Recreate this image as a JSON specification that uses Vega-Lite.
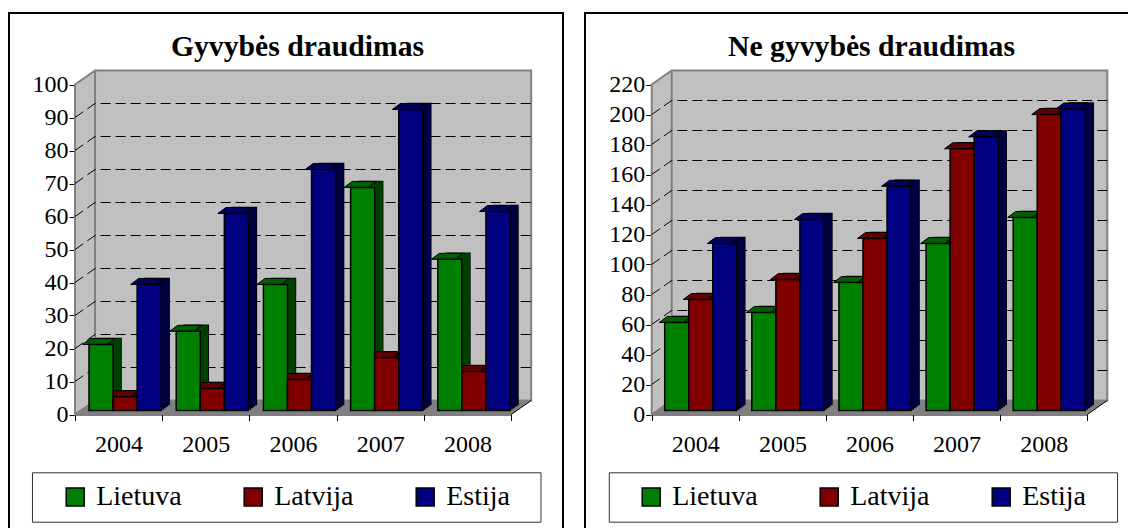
{"$schema":"https://vega.github.io/schema/vega-lite/v6.json","padding":{"left":8,"top":12,"right":0,"bottom":0},"background":"white","spacing":20,"config":{"view":{"stroke":"#000","strokeWidth":2,"fill":"white"},"font":"Liberation Serif","axis":{"labelFont":"Liberation Serif","labelColor":"#000","domainColor":"#000","tickColor":"#000","domainWidth":1,"tickWidth":1,"grid":false,"title":null,"zindex":1},"legend":{"labelFont":"Liberation Serif","labelColor":"#000"}},"datasets":{"life":[{"year":"2004","series":"Lietuva","value":20},{"year":"2004","series":"Latvija","value":4.2},{"year":"2004","series":"Estija","value":38.2},{"year":"2005","series":"Lietuva","value":24},{"year":"2005","series":"Latvija","value":6.7},{"year":"2005","series":"Estija","value":59.7},{"year":"2006","series":"Lietuva","value":38.2},{"year":"2006","series":"Latvija","value":9.4},{"year":"2006","series":"Estija","value":73},{"year":"2007","series":"Lietuva","value":67.6},{"year":"2007","series":"Latvija","value":16},{"year":"2007","series":"Estija","value":91.2},{"year":"2008","series":"Lietuva","value":45.8},{"year":"2008","series":"Latvija","value":11.8},{"year":"2008","series":"Estija","value":60.3}],"nonlife":[{"year":"2004","series":"Lietuva","value":58.7},{"year":"2004","series":"Latvija","value":74},{"year":"2004","series":"Estija","value":111.3},{"year":"2005","series":"Lietuva","value":65.3},{"year":"2005","series":"Latvija","value":87.3},{"year":"2005","series":"Estija","value":127.3},{"year":"2006","series":"Lietuva","value":85.3},{"year":"2006","series":"Latvija","value":114.7},{"year":"2006","series":"Estija","value":149.5},{"year":"2007","series":"Lietuva","value":111.3},{"year":"2007","series":"Latvija","value":174.5},{"year":"2007","series":"Estija","value":182.4},{"year":"2008","series":"Lietuva","value":128.7},{"year":"2008","series":"Latvija","value":197.3},{"year":"2008","series":"Estija","value":201}]},"hconcat":[{"width":554,"height":516,"title":{"text":"Gyvybės draudimas","anchor":"middle","dx":11.5,"offset":-50,"fontSize":29.7,"fontWeight":"bold","font":"Liberation Serif","color":"#000"},"resolve":{"scale":{"x":"independent","y":"independent"},"axis":{"x":"independent","y":"independent"}},"layer":[{"encoding":{"x":{"field":"u","type":"quantitative","axis":null,"scale":{"domain":[0,1],"range":[66,522.2],"nice":false,"zero":false}},"y":{"field":"top","type":"quantitative","axis":{"values":[0,10,20,30,40,50,60,70,80,90,100],"offset":-66,"tickSize":6,"labelFontSize":24,"labelPadding":1},"scale":{"domain":[0,100],"range":[401.5,71.5],"nice":false}}},"layer":[{"data":{"values":[{"u":-0.0932,"u2":1.0215,"top":-17.67,"bottom":-32.64}]},"mark":{"type":"rect","fill":"white","stroke":"#333","strokeWidth":1},"encoding":{"x2":{"field":"u2"},"y2":{"field":"bottom"}}},{"data":{"values":[{"u":0,"top":100,"bottom":0},{"u":0.0439,"top":104.24,"bottom":4.24},{"u":1,"top":104.24,"bottom":4.24}]},"mark":{"type":"area","fill":"#c0c0c0","stroke":"#808080","strokeWidth":2},"encoding":{"y2":{"field":"bottom"}}},{"data":{"values":[{"u":0.0439,"top":104.24,"bottom":4.24}]},"mark":{"type":"rule","stroke":"#808080","strokeWidth":2},"encoding":{"y2":{"field":"bottom"}}},{"data":{"values":[{"u":0,"top":0,"bottom":0},{"u":0.0439,"top":4.24,"bottom":0},{"u":0.9561,"top":4.24,"bottom":0},{"u":1,"top":4.24,"bottom":4.24}]},"mark":{"type":"area","fill":"#808080"},"encoding":{"y2":{"field":"bottom"}}},{"data":{"values":[{"tick":10,"u":0,"top":10},{"tick":10,"u":0.0439,"top":14.24},{"tick":10,"u":1,"top":14.24},{"tick":20,"u":0,"top":20},{"tick":20,"u":0.0439,"top":24.24},{"tick":20,"u":1,"top":24.24},{"tick":30,"u":0,"top":30},{"tick":30,"u":0.0439,"top":34.24},{"tick":30,"u":1,"top":34.24},{"tick":40,"u":0,"top":40},{"tick":40,"u":0.0439,"top":44.24},{"tick":40,"u":1,"top":44.24},{"tick":50,"u":0,"top":50},{"tick":50,"u":0.0439,"top":54.24},{"tick":50,"u":1,"top":54.24},{"tick":60,"u":0,"top":60},{"tick":60,"u":0.0439,"top":64.24},{"tick":60,"u":1,"top":64.24},{"tick":70,"u":0,"top":70},{"tick":70,"u":0.0439,"top":74.24},{"tick":70,"u":1,"top":74.24},{"tick":80,"u":0,"top":80},{"tick":80,"u":0.0439,"top":84.24},{"tick":80,"u":1,"top":84.24},{"tick":90,"u":0,"top":90},{"tick":90,"u":0.0439,"top":94.24},{"tick":90,"u":1,"top":94.24}]},"mark":{"type":"line","stroke":"#000","strokeWidth":1,"strokeDash":[10,5]},"encoding":{"detail":{"field":"tick"}}},{"data":{"values":[{"u":0.9561,"top":0},{"u":1,"top":4.24}]},"mark":{"type":"line","stroke":"#000","strokeWidth":1}}]},{"data":{"name":"life"},"resolve":{"scale":{"color":"independent","x":"independent","y":"independent","xOffset":"independent"},"axis":{"x":"independent","y":"independent"}},"encoding":{"xOffset":{"field":"series","type":"nominal","sort":["Lietuva","Latvija","Estija"],"scale":{"type":"band","paddingOuter":0.3125,"paddingInner":0}}},"layer":[{"mark":{"type":"bar","fill":"#000","stroke":"#000","strokeWidth":1.5},"encoding":{"x":{"field":"year","type":"ordinal","axis":null,"scale":{"range":[80.5,516.5],"paddingInner":0,"paddingOuter":0}},"y":{"field":"value","type":"quantitative","stack":null,"axis":null,"scale":{"domain":[0,100],"range":[391.5,61.5],"nice":false}}}},{"mark":{"type":"bar","fill":"#000","stroke":"#000","strokeWidth":1.5},"encoding":{"x":{"field":"year","type":"ordinal","axis":null,"scale":{"range":[78.5,514.5],"paddingInner":0,"paddingOuter":0}},"y":{"field":"value","type":"quantitative","stack":null,"axis":null,"scale":{"domain":[0,100],"range":[393,63],"nice":false}}}},{"mark":{"type":"bar","fill":"#000","stroke":"#000","strokeWidth":1.5},"encoding":{"x":{"field":"year","type":"ordinal","axis":null,"scale":{"range":[76.5,512.5],"paddingInner":0,"paddingOuter":0}},"y":{"field":"value","type":"quantitative","stack":null,"axis":null,"scale":{"domain":[0,100],"range":[394.5,64.5],"nice":false}}}},{"mark":{"type":"bar","fill":"#000","stroke":"#000","strokeWidth":1.5},"encoding":{"x":{"field":"year","type":"ordinal","axis":null,"scale":{"range":[74.5,510.5],"paddingInner":0,"paddingOuter":0}},"y":{"field":"value","type":"quantitative","stack":null,"axis":null,"scale":{"domain":[0,100],"range":[396,66],"nice":false}}}},{"mark":{"type":"bar"},"encoding":{"x":{"field":"year","type":"ordinal","axis":null,"scale":{"range":[80.5,516.5],"paddingInner":0,"paddingOuter":0}},"y":{"field":"value","type":"quantitative","stack":null,"axis":null,"scale":{"domain":[0,100],"range":[391.5,61.5],"nice":false}},"color":{"field":"series","legend":null,"scale":{"domain":["Lietuva","Latvija","Estija"],"range":["#004000","#400000","#000040"]}}}},{"mark":{"type":"bar"},"encoding":{"x":{"field":"year","type":"ordinal","axis":null,"scale":{"range":[78.5,514.5],"paddingInner":0,"paddingOuter":0}},"y":{"field":"value","type":"quantitative","stack":null,"axis":null,"scale":{"domain":[0,100],"range":[393,63],"nice":false}},"color":{"field":"series","legend":null,"scale":{"domain":["Lietuva","Latvija","Estija"],"range":["#004000","#400000","#000040"]}}}},{"mark":{"type":"bar"},"encoding":{"x":{"field":"year","type":"ordinal","axis":null,"scale":{"range":[76.5,512.5],"paddingInner":0,"paddingOuter":0}},"y":{"field":"value","type":"quantitative","stack":null,"axis":null,"scale":{"domain":[0,100],"range":[394.5,64.5],"nice":false}},"color":{"field":"series","legend":null,"scale":{"domain":["Lietuva","Latvija","Estija"],"range":["#004000","#400000","#000040"]}}}},{"mark":{"type":"bar"},"encoding":{"x":{"field":"year","type":"ordinal","axis":null,"scale":{"range":[74.5,510.5],"paddingInner":0,"paddingOuter":0}},"y":{"field":"value","type":"quantitative","stack":null,"axis":null,"scale":{"domain":[0,100],"range":[396,66],"nice":false}},"color":{"field":"series","legend":null,"scale":{"domain":["Lietuva","Latvija","Estija"],"range":["#004000","#400000","#000040"]}}}},{"mark":{"type":"point","filled":true,"opacity":1,"shape":"M-12,0L12,0L20,-6L-4,-6Z","size":4,"stroke":"#000","strokeWidth":1,"xOffset":6.5,"yOffset":-4},"encoding":{"x":{"field":"year","type":"ordinal","title":null,"axis":{"labelAngle":0,"tickBand":"extent","offset":-114.5,"tickSize":6,"labelFontSize":24,"labelPadding":12},"scale":{"type":"band","range":[66,502],"paddingInner":0,"paddingOuter":0}},"y":{"field":"value","type":"quantitative","axis":null,"scale":{"domain":[0,100],"range":[401.5,71.5],"nice":false}},"color":{"field":"series","legend":null,"scale":{"domain":["Lietuva","Latvija","Estija"],"range":["#006000","#600000","#000060"]}}}},{"mark":{"type":"bar","stroke":"#000","strokeWidth":1.5},"encoding":{"x":{"field":"year","type":"ordinal","axis":null,"scale":{"range":[72.5,508.5],"paddingInner":0,"paddingOuter":0}},"y":{"field":"value","type":"quantitative","stack":null,"axis":null,"scale":{"domain":[0,100],"range":[397.5,67.5],"nice":false}},"color":{"field":"series","title":null,"scale":{"domain":["Lietuva","Latvija","Estija"],"range":["#008000","#800000","#000080"]},"legend":{"orient":"none","legendX":52.2,"legendY":470,"direction":"horizontal","columns":3,"padding":0,"columnPadding":57,"labelOffset":7,"symbolType":"square","symbolSize":324,"symbolStrokeColor":"#000","symbolStrokeWidth":1.5,"labelFontSize":28}}}}]}]},{"width":545,"height":516,"title":{"text":"Ne gyvybės draudimas","anchor":"middle","dx":14,"offset":-50,"fontSize":29.7,"fontWeight":"bold","font":"Liberation Serif","color":"#000"},"resolve":{"scale":{"x":"independent","y":"independent"},"axis":{"x":"independent","y":"independent"}},"layer":[{"encoding":{"x":{"field":"u","type":"quantitative","axis":null,"scale":{"domain":[0,1],"range":[66.7,522.3],"nice":false,"zero":false}},"y":{"field":"top","type":"quantitative","axis":{"values":[0,20,40,60,80,100,120,140,160,180,200,220],"offset":-66.7,"tickSize":6,"labelFontSize":24,"labelPadding":1},"scale":{"domain":[0,220],"range":[401.5,71.5],"nice":false}}},"layer":[{"data":{"values":[{"u":-0.0931,"u2":1.0225,"top":-38.87,"bottom":-71.8}]},"mark":{"type":"rect","fill":"white","stroke":"#333","strokeWidth":1},"encoding":{"x2":{"field":"u2"},"y2":{"field":"bottom"}}},{"data":{"values":[{"u":0,"top":220,"bottom":0},{"u":0.0439,"top":229.33,"bottom":9.33},{"u":1,"top":229.33,"bottom":9.33}]},"mark":{"type":"area","fill":"#c0c0c0","stroke":"#808080","strokeWidth":2},"encoding":{"y2":{"field":"bottom"}}},{"data":{"values":[{"u":0.0439,"top":229.33,"bottom":9.33}]},"mark":{"type":"rule","stroke":"#808080","strokeWidth":2},"encoding":{"y2":{"field":"bottom"}}},{"data":{"values":[{"u":0,"top":0,"bottom":0},{"u":0.0439,"top":9.33,"bottom":0},{"u":0.9561,"top":9.33,"bottom":0},{"u":1,"top":9.33,"bottom":9.33}]},"mark":{"type":"area","fill":"#808080"},"encoding":{"y2":{"field":"bottom"}}},{"data":{"values":[{"tick":20,"u":0,"top":20},{"tick":20,"u":0.0439,"top":29.33},{"tick":20,"u":1,"top":29.33},{"tick":40,"u":0,"top":40},{"tick":40,"u":0.0439,"top":49.33},{"tick":40,"u":1,"top":49.33},{"tick":60,"u":0,"top":60},{"tick":60,"u":0.0439,"top":69.33},{"tick":60,"u":1,"top":69.33},{"tick":80,"u":0,"top":80},{"tick":80,"u":0.0439,"top":89.33},{"tick":80,"u":1,"top":89.33},{"tick":100,"u":0,"top":100},{"tick":100,"u":0.0439,"top":109.33},{"tick":100,"u":1,"top":109.33},{"tick":120,"u":0,"top":120},{"tick":120,"u":0.0439,"top":129.33},{"tick":120,"u":1,"top":129.33},{"tick":140,"u":0,"top":140},{"tick":140,"u":0.0439,"top":149.33},{"tick":140,"u":1,"top":149.33},{"tick":160,"u":0,"top":160},{"tick":160,"u":0.0439,"top":169.33},{"tick":160,"u":1,"top":169.33},{"tick":180,"u":0,"top":180},{"tick":180,"u":0.0439,"top":189.33},{"tick":180,"u":1,"top":189.33},{"tick":200,"u":0,"top":200},{"tick":200,"u":0.0439,"top":209.33},{"tick":200,"u":1,"top":209.33}]},"mark":{"type":"line","stroke":"#000","strokeWidth":1,"strokeDash":[10,5]},"encoding":{"detail":{"field":"tick"}}},{"data":{"values":[{"u":0.9561,"top":0},{"u":1,"top":9.33}]},"mark":{"type":"line","stroke":"#000","strokeWidth":1}}]},{"data":{"name":"nonlife"},"resolve":{"scale":{"color":"independent","x":"independent","y":"independent","xOffset":"independent"},"axis":{"x":"independent","y":"independent"}},"encoding":{"xOffset":{"field":"series","type":"nominal","sort":["Lietuva","Latvija","Estija"],"scale":{"type":"band","paddingOuter":0.3125,"paddingInner":0}}},"layer":[{"mark":{"type":"bar","fill":"#000","stroke":"#000","strokeWidth":1.5},"encoding":{"x":{"field":"year","type":"ordinal","axis":null,"scale":{"range":[80.2,515.8],"paddingInner":0,"paddingOuter":0}},"y":{"field":"value","type":"quantitative","stack":null,"axis":null,"scale":{"domain":[0,220],"range":[391.5,61.5],"nice":false}}}},{"mark":{"type":"bar","fill":"#000","stroke":"#000","strokeWidth":1.5},"encoding":{"x":{"field":"year","type":"ordinal","axis":null,"scale":{"range":[78.2,513.8],"paddingInner":0,"paddingOuter":0}},"y":{"field":"value","type":"quantitative","stack":null,"axis":null,"scale":{"domain":[0,220],"range":[393,63],"nice":false}}}},{"mark":{"type":"bar","fill":"#000","stroke":"#000","strokeWidth":1.5},"encoding":{"x":{"field":"year","type":"ordinal","axis":null,"scale":{"range":[76.2,511.8],"paddingInner":0,"paddingOuter":0}},"y":{"field":"value","type":"quantitative","stack":null,"axis":null,"scale":{"domain":[0,220],"range":[394.5,64.5],"nice":false}}}},{"mark":{"type":"bar","fill":"#000","stroke":"#000","strokeWidth":1.5},"encoding":{"x":{"field":"year","type":"ordinal","axis":null,"scale":{"range":[74.2,509.8],"paddingInner":0,"paddingOuter":0}},"y":{"field":"value","type":"quantitative","stack":null,"axis":null,"scale":{"domain":[0,220],"range":[396,66],"nice":false}}}},{"mark":{"type":"bar"},"encoding":{"x":{"field":"year","type":"ordinal","axis":null,"scale":{"range":[80.2,515.8],"paddingInner":0,"paddingOuter":0}},"y":{"field":"value","type":"quantitative","stack":null,"axis":null,"scale":{"domain":[0,220],"range":[391.5,61.5],"nice":false}},"color":{"field":"series","legend":null,"scale":{"domain":["Lietuva","Latvija","Estija"],"range":["#004000","#400000","#000040"]}}}},{"mark":{"type":"bar"},"encoding":{"x":{"field":"year","type":"ordinal","axis":null,"scale":{"range":[78.2,513.8],"paddingInner":0,"paddingOuter":0}},"y":{"field":"value","type":"quantitative","stack":null,"axis":null,"scale":{"domain":[0,220],"range":[393,63],"nice":false}},"color":{"field":"series","legend":null,"scale":{"domain":["Lietuva","Latvija","Estija"],"range":["#004000","#400000","#000040"]}}}},{"mark":{"type":"bar"},"encoding":{"x":{"field":"year","type":"ordinal","axis":null,"scale":{"range":[76.2,511.8],"paddingInner":0,"paddingOuter":0}},"y":{"field":"value","type":"quantitative","stack":null,"axis":null,"scale":{"domain":[0,220],"range":[394.5,64.5],"nice":false}},"color":{"field":"series","legend":null,"scale":{"domain":["Lietuva","Latvija","Estija"],"range":["#004000","#400000","#000040"]}}}},{"mark":{"type":"bar"},"encoding":{"x":{"field":"year","type":"ordinal","axis":null,"scale":{"range":[74.2,509.8],"paddingInner":0,"paddingOuter":0}},"y":{"field":"value","type":"quantitative","stack":null,"axis":null,"scale":{"domain":[0,220],"range":[396,66],"nice":false}},"color":{"field":"series","legend":null,"scale":{"domain":["Lietuva","Latvija","Estija"],"range":["#004000","#400000","#000040"]}}}},{"mark":{"type":"point","filled":true,"opacity":1,"shape":"M-12,0L12,0L20,-6L-4,-6Z","size":4,"stroke":"#000","strokeWidth":1,"xOffset":5.5,"yOffset":-4},"encoding":{"x":{"field":"year","type":"ordinal","title":null,"axis":{"labelAngle":0,"tickBand":"extent","offset":-114.5,"tickSize":6,"labelFontSize":24,"labelPadding":12},"scale":{"type":"band","range":[66.7,502.3],"paddingInner":0,"paddingOuter":0}},"y":{"field":"value","type":"quantitative","axis":null,"scale":{"domain":[0,220],"range":[401.5,71.5],"nice":false}},"color":{"field":"series","legend":null,"scale":{"domain":["Lietuva","Latvija","Estija"],"range":["#006000","#600000","#000060"]}}}},{"mark":{"type":"bar","stroke":"#000","strokeWidth":1.5},"encoding":{"x":{"field":"year","type":"ordinal","axis":null,"scale":{"range":[72.2,507.8],"paddingInner":0,"paddingOuter":0}},"y":{"field":"value","type":"quantitative","stack":null,"axis":null,"scale":{"domain":[0,220],"range":[397.5,67.5],"nice":false}},"color":{"field":"series","title":null,"scale":{"domain":["Lietuva","Latvija","Estija"],"range":["#008000","#800000","#000080"]},"legend":{"orient":"none","legendX":52.2,"legendY":470,"direction":"horizontal","columns":3,"padding":0,"columnPadding":57,"labelOffset":7,"symbolType":"square","symbolSize":324,"symbolStrokeColor":"#000","symbolStrokeWidth":1.5,"labelFontSize":28}}}}]}]}]}
